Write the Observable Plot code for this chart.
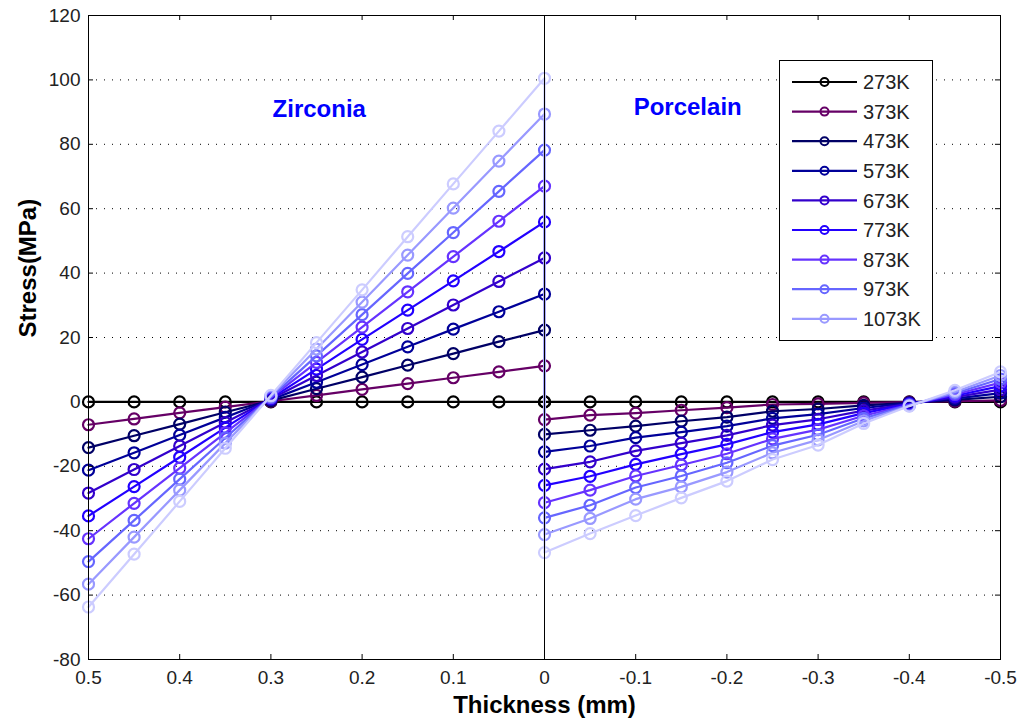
<!DOCTYPE html>
<html><head><meta charset="utf-8">
<script src="https://cdn.jsdelivr.net/npm/d3@7"></script>
<script src="https://cdn.jsdelivr.net/npm/@observablehq/plot@0.6"></script>
<style>body{margin:0;background:#fff} svg{display:block}</style>
</head><body><div id="chart"></div>
<script>
const seriesNames = ["273K","373K","473K","573K","673K","773K","873K","973K","1073K","1173K"];
const legendNames = ["273K","373K","473K","573K","673K","773K","873K","973K","1073K"];
const xZirconia = [0.5,0.45,0.4,0.35,0.3,0.25,0.2,0.15,0.1,0.05,0];
const xPorcelain = [0,-0.05,-0.1,-0.15,-0.2,-0.25,-0.3,-0.35,-0.4,-0.45,-0.5];
const zirconia = [
  [0,0,0,0,0,0,0,0,0,0,0],
  [-7.1,-5.3,-3.4,-1.6,0.2,2.0,3.9,5.7,7.5,9.3,11.2],
  [-14.2,-10.5,-6.9,-3.2,0.4,4.1,7.7,11.4,15.0,18.7,22.3],
  [-21.2,-15.8,-10.3,-4.8,0.7,6.1,11.6,17.1,22.6,28.0,33.5],
  [-28.3,-21.0,-13.7,-6.4,0.9,8.2,15.5,22.8,30.1,37.4,44.7],
  [-35.4,-26.3,-17.2,-8.0,1.1,10.2,19.4,28.5,37.6,46.7,55.9],
  [-42.5,-31.5,-20.6,-9.6,1.3,12.3,23.2,34.2,45.1,56.1,67.0],
  [-49.6,-36.8,-24.0,-11.2,1.5,14.3,27.1,39.9,52.6,65.4,78.2],
  [-56.6,-42.0,-27.4,-12.8,1.8,16.4,31.0,45.6,60.2,74.8,89.4],
  [-63.7,-47.3,-30.9,-14.4,2.0,18.4,34.8,51.3,67.7,84.1,100.5]
];
const porcelain = [
  [0,0,0,0,0,0,0,0,0,0,0],
  [-5.5,-4.1,-3.5,-2.6,-1.8,-0.8,-0.6,-0.3,-0.1,0.2,0.5],
  [-10.1,-8.8,-7.5,-6.0,-4.7,-2.9,-2.2,-1.1,-0.3,0.6,1.6],
  [-15.5,-13.7,-11.1,-9.4,-7.5,-5.1,-3.8,-1.9,-0.4,1.0,2.7],
  [-20.9,-18.6,-15.2,-12.8,-10.4,-7.2,-5.4,-2.7,-0.6,1.5,3.8],
  [-25.9,-23.1,-19.4,-16.2,-13.2,-9.4,-7.0,-3.5,-0.7,1.9,4.9],
  [-31.3,-27.4,-23.0,-19.6,-16.1,-11.5,-8.6,-4.3,-0.9,2.3,6.0],
  [-36.0,-32.1,-26.6,-23.0,-18.9,-13.6,-10.2,-5.1,-1.0,2.7,7.1],
  [-41.2,-36.2,-30.2,-26.4,-21.8,-15.8,-11.8,-5.9,-1.2,3.1,8.2],
  [-46.8,-40.9,-35.3,-29.8,-24.6,-17.9,-13.4,-6.7,-1.3,3.6,9.3]
];
const xTicks = [0.5,0.4,0.3,0.2,0.1,0,-0.1,-0.2,-0.3,-0.4,-0.5];
const yTicks = [-80,-60,-40,-20,0,20,40,60,80,100,120];
const gridValues = [-60,-40,-20,20,40,60,80,100];
const regionLabels = ["Zirconia","Porcelain"];
const regionX = [0.247,-0.157];
const regionY = [91,91.5];
const colors = ["#000000","#660066","#000066","#000099","#3300cc","#2200ff","#6633ff","#6666ff","#9999ff","#ccccff"];

const W = 1019, H = 723, mL = 88, mR = 19, mT = 15, mB = 64;
const innerW = W - mL - mR, innerH = H - mT - mB;
const FONT = "'Liberation Sans', Arial, sans-serif";

const rows = [];
seriesNames.forEach((s, k) => {
  xZirconia.forEach((x, i) => rows.push({series: s, k, x, y: zirconia[k][i]}));
  xPorcelain.forEach((x, i) => rows.push({series: s, k, x, y: porcelain[k][i]}));
});

const seriesMarks = [];
seriesNames.forEach((s, k) => {
  const d = rows.filter(r => r.k === k);
  seriesMarks.push(Plot.line(d, {x: "x", y: "y", stroke: colors[k], strokeWidth: 2.2}));
  seriesMarks.push(Plot.dot(d, {x: "x", y: "y", r: 5.5, stroke: colors[k], strokeWidth: 2.2, fill: "none"}));
});

const svg = Plot.plot({
  width: W, height: H,
  marginLeft: mL, marginRight: mR, marginTop: mT, marginBottom: mB,
  style: {fontFamily: FONT, color: "#000", background: "#fff"},
  x: {domain: [0.5, -0.5]},
  y: {domain: [-80, 120]},
  marks: [
    Plot.ruleY(gridValues, {y: d => d, stroke: "#000", strokeWidth: 1, strokeDasharray: "1,7", insetLeft: 8}),
    ...seriesMarks,
    Plot.ruleX([0], {x: d => d, stroke: "#000", strokeWidth: 1}),
    Plot.frame({stroke: "#000", strokeWidth: 1}),
    Plot.ruleX(xTicks, {x: d => d, insetTop: innerH - 5, stroke: "#000"}),
    Plot.ruleX(xTicks, {x: d => d, insetBottom: innerH - 5, stroke: "#000"}),
    Plot.ruleY(yTicks, {y: d => d, insetRight: innerW - 5, stroke: "#000"}),
    Plot.ruleY(yTicks, {y: d => d, insetLeft: innerW - 5, stroke: "#000"}),
    Plot.axisX(xTicks, {tickSize: 0, tickPadding: 11, tickFormat: d => String(d), fontSize: 19, label: null, fill: "#222"}),
    Plot.axisY(yTicks, {tickSize: 0, tickPadding: 8, tickFormat: d => String(d), fontSize: 19, label: null, fill: "#222"}),
    Plot.text(regionLabels, {x: (d, i) => regionX[i], y: (d, i) => regionY[i], text: d => d, fill: "#0000ff", fontWeight: "bold", fontSize: 24}),
    Plot.text(["Thickness (mm)"], {frameAnchor: "bottom", lineAnchor: "middle", dy: 46, text: d => d, fontWeight: "bold", fontSize: 24, fill: "#000"}),
    Plot.text(["Stress(MPa)"], {frameAnchor: "left", lineAnchor: "middle", dx: -60, rotate: -90, text: d => d, fontWeight: "bold", fontSize: 24, fill: "#000"})
  ]
});

const g = d3.select(svg).append("g").attr("font-family", FONT).attr("text-anchor", "start");
g.append("rect").attr("x", 779.5).attr("y", 60.5).attr("width", 153).attr("height", 280)
  .attr("fill", "#fff").attr("stroke", "#000").attr("stroke-width", 1);
legendNames.forEach((n, i) => {
  const cy = 82 + i * 29.6;
  g.append("line").attr("x1", 792).attr("x2", 857).attr("y1", cy).attr("y2", cy)
    .attr("stroke", colors[i]).attr("stroke-width", 2.2);
  g.append("circle").attr("cx", 824.5).attr("cy", cy).attr("r", 4)
    .attr("fill", "none").attr("stroke", colors[i]).attr("stroke-width", 2);
  g.append("text").attr("x", 863).attr("y", cy).attr("dy", "0.36em").attr("text-anchor", "start")
    .attr("font-size", 20).attr("fill", "#222").text(n);
});

document.getElementById("chart").appendChild(svg);
</script>
</body></html>
